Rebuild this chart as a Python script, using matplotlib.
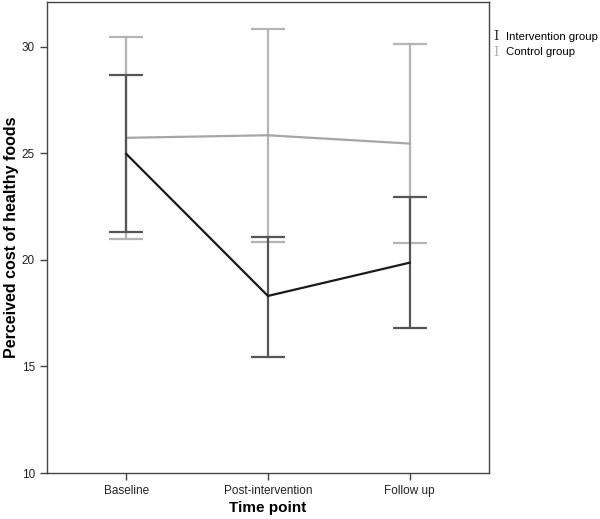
import numpy as np
import matplotlib.pyplot as plt

plt.rcParams['font.family'] = ['Liberation Sans', 'DejaVu Sans']

# data (means and 95% CI bounds)
time_points = ['Baseline', 'Post-intervention', 'Follow up']
interv_mean = [24.98, 18.31, 19.87]
interv_low = [21.31, 15.43, 16.82]
interv_high = [28.69, 21.09, 22.96]
control_mean = [25.73, 25.85, 25.46]
control_low = [20.99, 20.86, 20.80]
control_high = [30.47, 30.83, 30.14]

dark_line = '#1a1a1a'
dark_bar = '#555555'
light_line = '#a6a6a6'
light_bar = '#b4b4b4'

fig = plt.figure(figsize=(6, 5.19), dpi=100)
ax = fig.add_axes([0.078, 0.0886, 0.737, 0.9074])

x = np.arange(len(time_points))

def draw_group(mean, low, high, line_col, bar_col):
    mean = np.array(mean)
    yerr = [mean - np.array(low), np.array(high) - mean]
    ax.errorbar(x, mean, yerr=yerr, fmt='none', ecolor=bar_col,
                elinewidth=1.6, capsize=12.5, capthick=1.6)
    ax.plot(x, mean, color=line_col, lw=1.6)

draw_group(control_mean, control_low, control_high, light_line, light_bar)
draw_group(interv_mean, interv_low, interv_high, dark_line, dark_bar)

ax.set_xlim(-0.56, 2.56)
ax.set_ylim(10, 32.1)
ax.set_xticks(x)
ax.set_xticklabels(time_points)
ax.set_yticks([10, 15, 20, 25, 30])
ax.tick_params(direction='out', length=5, width=1, color='#444444',
               labelsize=8.5, labelcolor='#222222')
for s in ax.spines.values():
    s.set_color('#444444')
    s.set_linewidth(1)

ax.set_xlabel('Time point', fontsize=11, fontweight='bold', labelpad=3)
ax.set_ylabel('Perceived cost of healthy foods', fontsize=11.5, fontweight='bold', labelpad=2)

# legend in the style of the original (I-beam glyphs)
fig.text(0.822, 1 - 37 / 519, 'I', family='DejaVu Serif', color='#333333',
         fontsize=9.5, va='center')
fig.text(0.843, 1 - 37 / 519, 'Intervention group', fontsize=8.2, va='center')
fig.text(0.822, 1 - 52 / 519, 'I', family='DejaVu Serif', color=light_bar,
         fontsize=9.5, va='center')
fig.text(0.843, 1 - 52 / 519, 'Control group', fontsize=8.2, va='center')

fig.savefig('out.png', dpi=100)
